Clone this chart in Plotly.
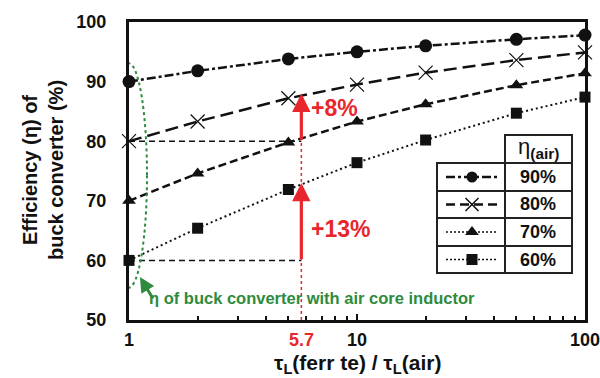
import numpy as np
import plotly.graph_objects as go

# Inductor time-constant ratio tau_L(ferrite) / tau_L(air)
tau_ratio = [1, 2, 5, 10, 20, 50, 100]

# Buck converter efficiency (%) for each air-core baseline efficiency
eta_90 = [90.0, 91.8, 93.8, 95.0, 96.0, 97.1, 97.8]
eta_80 = [80.0, 83.3, 87.2, 89.5, 91.5, 93.6, 94.9]
eta_70 = [70.0, 74.6, 79.8, 83.3, 86.2, 89.4, 91.4]
eta_60 = [60.0, 65.4, 71.9, 76.4, 80.2, 84.7, 87.4]

series_labels = ["90%", "80%", "70%", "60%"]

# Operating point highlighted on the chart
ratio_mark = 5.7
gain_80 = [80.0, 88.0]   # 80% -> 88% (+8%)
gain_60 = [60.0, 73.0]   # 60% -> 73% (+13%)

x_major = [1, 10, 100]
x_major_text = ["<b>1</b>", "<b>10</b>", "<b>100</b>"]
x_minor = [2, 3, 4, 5, 6, 7, 8, 9, 20, 30, 40, 50, 60, 70, 80, 90]
y_ticks = [50, 60, 70, 80, 90, 100]

FONT = "Liberation Sans, Arial, Helvetica, sans-serif"
RED = "#e8262b"
GREEN = "#2e8b3d"
BLACK = "#111111"

# plot area in pixels (for placing table / text in paper fractions)
L, R, T, B = 129, 585, 22, 320
def px(xp):
    return (xp - L) / (R - L)
def py(yp):
    return (B - yp) / (B - T)

styles = [
    dict(data=eta_90, dash="dashdot", symbol="circle", size=13, lw=2.5, mline=0),
    dict(data=eta_80, dash="13px,6px", symbol="x-thin-open", size=14, lw=2.5, mline=1.2),
    dict(data=eta_70, dash="8px,4px", symbol="triangle-up", size=12, lw=2.5, mline=0),
    dict(data=eta_60, dash="2px,3px", symbol="square", size=11, lw=2, mline=0),
]

fig = go.Figure()

for st, name in zip(styles, series_labels):
    fig.add_trace(go.Scatter(
        x=tau_ratio, y=st["data"], mode="lines+markers", name=name,
        line=dict(color=BLACK, width=st["lw"], dash=st["dash"]),
        marker=dict(symbol=st["symbol"], size=st["size"], color=BLACK,
                    line=dict(color=BLACK, width=st["mline"])),
        cliponaxis=False, showlegend=False,
    ))

def label(x, y, text, size, color=BLACK, xref="paper", yref="paper", **kw):
    fig.add_annotation(x=x, y=y, xref=xref, yref=yref, text=text,
                       showarrow=False, xanchor="center", yanchor="middle",
                       font=dict(family=FONT, size=size, color=color), **kw)

# ---- table-style key (drawn on an overlay 0..1 axis pair) ----
tbl_x0, tbl_xm, tbl_x1 = 437, 505, 572
tbl_head_top, tbl_top = 135, 163
row_edges = [163, 191, 218, 246, 273]
key_styles = [
    dict(dash="dashdot", symbol="circle", size=11, lw=2.5, mline=0),
    dict(dash="9px,5px", symbol="x-thin-open", size=13, lw=2.5, mline=1.5),
    dict(dash="2px,2px", symbol="triangle-up", size=12, lw=1.5, mline=0),
    dict(dash="2px,2px", symbol="square", size=11, lw=1.5, mline=0),
]
for i, (ks, name) in enumerate(zip(key_styles, series_labels)):
    yc = py((row_edges[i] + row_edges[i + 1]) / 2)
    fig.add_trace(go.Scatter(
        x=[px(446), px(472), px(498)], y=[yc, yc, yc], mode="lines",
        line=dict(color=BLACK, width=ks["lw"], dash=ks["dash"]),
        xaxis="x2", yaxis="y2", showlegend=False, hoverinfo="skip",
    ))
    fig.add_trace(go.Scatter(
        x=[px(472)], y=[yc], mode="markers",
        marker=dict(symbol=ks["symbol"], size=ks["size"], color=BLACK,
                    line=dict(color=BLACK, width=ks["mline"])),
        xaxis="x2", yaxis="y2", showlegend=False, hoverinfo="skip",
    ))
    label(px(538), yc, f"<b>{name}</b>", 18)

shapes = []
grid = dict(color="#222222", width=2)
shapes.append(dict(type="rect", xref="paper", yref="paper",
                   x0=px(tbl_xm), x1=px(tbl_x1), y0=py(tbl_top), y1=py(tbl_head_top),
                   line=grid, fillcolor="white", layer="below"))
shapes.append(dict(type="rect", xref="paper", yref="paper",
                   x0=px(tbl_x0), x1=px(tbl_x1), y0=py(row_edges[-1]), y1=py(tbl_top),
                   line=grid, fillcolor="white", layer="below"))
for ye in row_edges[1:-1]:
    shapes.append(dict(type="line", xref="paper", yref="paper",
                       x0=px(tbl_x0), x1=px(tbl_x1), y0=py(ye), y1=py(ye),
                       line=grid, layer="below"))
shapes.append(dict(type="line", xref="paper", yref="paper",
                   x0=px(tbl_xm), x1=px(tbl_xm), y0=py(row_edges[-1]), y1=py(tbl_top),
                   line=grid, layer="below"))
label(px(538), py(148), "η<sub><b>(air)</b></sub>", 22)

# ---- reference guides at the 5.7x operating point ----
for yv in (gain_80[0], gain_60[0]):
    shapes.append(dict(type="line", xref="x", yref="y",
                       x0=tau_ratio[0], x1=ratio_mark, y0=yv, y1=yv,
                       line=dict(color=BLACK, width=1.5, dash="6px,4px"), layer="below"))
shapes.append(dict(type="line", xref="x", yref="y",
                   x0=ratio_mark, x1=ratio_mark, y0=50, y1=gain_80[1],
                   line=dict(color=RED, width=1.5, dash="dot"), layer="below"))

# green dotted ellipse around the air-core points
shapes.append(dict(type="circle", xref="x", yref="y",
                   x0=10 ** -0.083, x1=10 ** 0.079, y0=55.4, y1=93.1,
                   line=dict(color=GREEN, width=2, dash="dot"), layer="above"))
fig.update_layout(shapes=shapes)

lx = np.log10(ratio_mark)
for lo, hi in (gain_80, gain_60):
    fig.add_annotation(
        x=lx, y=hi, ax=lx, ay=lo, xref="x", yref="y", axref="x", ayref="y",
        text="", showarrow=True, arrowhead=2, arrowsize=1.15, arrowwidth=3.2,
        arrowcolor=RED,
    )
label(px(334), py(108), "<b>+8%</b>", 23, RED)
label(px(340), py(229), "<b>+13%</b>", 23, RED)
label(lx, py(340), "<b>5.7</b>", 18, RED, xref="x")

# green caption with arrow pointing at the ellipse
fig.add_annotation(x=0.048, y=57.2, xref="x", yref="y", ax=14, ay=23,
                   text="", showarrow=True, arrowhead=2, arrowsize=1,
                   arrowwidth=3, arrowcolor=GREEN)
label(px(312), py(298), "<b>η of buck converter with air core inductor</b>", 16.5, GREEN)

# axis titles
label(px(357), py(364), "<b>τ<sub>L</sub>(ferr te) / τ<sub>L</sub>(air)</b>", 21)
label(px(43), py(170), "<b>Efficiency (η) of<br>buck converter (%)</b>", 20,
      textangle=-90)

fig.update_layout(
    width=600, height=378,
    margin=dict(l=L, r=600 - R, t=T, b=378 - B, pad=0, autoexpand=False),
    plot_bgcolor="white", paper_bgcolor="white",
    font=dict(family=FONT, color=BLACK),
    xaxis=dict(
        type="log", range=[0, 2], showgrid=False, zeroline=False,
        showline=True, mirror=True, linewidth=3, linecolor=BLACK,
        tickmode="array", tickvals=x_major, ticktext=x_major_text,
        ticks="inside", ticklen=6, tickwidth=2, tickcolor=BLACK,
        tickfont=dict(family=FONT, size=18, color=BLACK), ticklabelstandoff=1,
        ticklabeloverflow="allow", automargin=False,
        minor=dict(tickmode="array", tickvals=x_minor, ticks="inside",
                   ticklen=4, tickwidth=2, tickcolor=BLACK, showgrid=False),
    ),
    yaxis=dict(
        range=[50, 100], showgrid=False, zeroline=False,
        showline=True, mirror=True, linewidth=3, linecolor=BLACK,
        tickmode="array", tickvals=y_ticks,
        ticktext=[f"<b>{v}</b>" for v in y_ticks],
        ticks="", tickfont=dict(family=FONT, size=18, color=BLACK),
        ticklabelstandoff=16, automargin=False,
    ),
    xaxis2=dict(overlaying="x", range=[0, 1], visible=False),
    yaxis2=dict(overlaying="y", range=[0, 1], visible=False),
)

fig.write_html("out.html")
